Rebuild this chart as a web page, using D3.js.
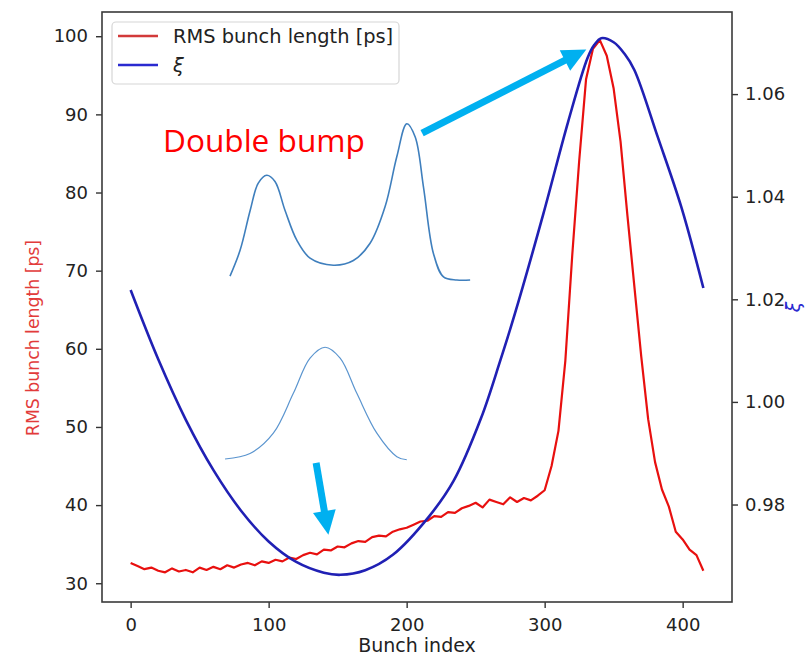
<!DOCTYPE html>
<html>
<head>
<meta charset="utf-8">
<script src="https://cdn.jsdelivr.net/npm/d3@7"></script>
<style>
  body { margin: 0; background: #fff; }
  svg { display: block; }
  .tick text { font-family: "DejaVu Sans", sans-serif; font-size: 18px; fill: #222; }
  .tick line { stroke: #333; stroke-width: 1.4; }
</style>
</head>
<body>
<svg id="chart" width="808" height="657"></svg>
<script>
// bunch index sampled every 5 bunches
const bunchIdx = d3.range(0, 416, 5);
const rmsLength = [
  32.6, 32.2, 31.8, 32.0, 31.6, 31.4, 31.9, 31.5, 31.7, 31.4,
  32.0, 31.7, 32.1, 31.8, 32.3, 32.0, 32.4, 32.6, 32.3, 32.8,
  32.6, 33.0, 32.8, 33.3, 33.1, 33.6, 33.9, 33.7, 34.3, 34.2,
  34.7, 34.6, 35.1, 35.4, 35.3, 35.9, 36.1, 36.0, 36.6, 36.9,
  37.1, 37.5, 37.9, 38.0, 38.6, 38.5, 39.1, 39.0, 39.6, 39.9,
  40.3, 39.7, 40.7, 40.4, 40.1, 41.0, 40.4, 40.9, 40.6, 41.2,
  41.9, 45.0, 49.5, 58.5, 72.0, 84.0, 94.5, 98.4, 99.5, 97.5,
  93.3, 86.5, 77.0, 68.0, 59.0, 51.0, 45.5, 42.0, 39.8, 36.6,
  35.6, 34.3, 33.6, 31.6
];

const xiIdx = [0, 20, 40, 60, 80, 100, 120, 140, 152, 170, 190, 216, 234, 254,
  268, 278, 299, 317, 331, 336, 341, 350, 358, 365, 382, 399, 415];
const xiVals = [1.0218, 1.0083, 0.9965, 0.9867, 0.9788, 0.9728, 0.9688, 0.9667,
  0.9663, 0.9672, 0.9702, 0.9776, 0.9846, 0.9969, 1.0082, 1.0168, 1.0366,
  1.0546, 1.0670, 1.0696, 1.0709, 1.0701, 1.0678, 1.0647, 1.0516, 1.0380, 1.0222];

const xTicks = [0, 100, 200, 300, 400];
const leftTicks = [30, 40, 50, 60, 70, 80, 90, 100];
const rightTicks = [0.98, 1.00, 1.02, 1.04, 1.06];

// sketches of the bunch profiles, in (bunch index, ps) units
const doubleBump = [
  [72.0, 69.3], [79.3, 72.6], [86.6, 77.7], [92.5, 81.2], [98.6, 82.2],
  [104.6, 81.4], [111.9, 77.7], [120.4, 73.9], [130.0, 71.6], [146.9, 70.7],
  [161.4, 71.3], [173.5, 73.5], [184.4, 78.2], [192.9, 84.6], [200.1, 88.8],
  [206.2, 87.1], [212.2, 80.7], [219.4, 72.2], [226.7, 69.2], [236.4, 68.8],
  [246.0, 68.8]
];
const singleBump = [
  [68.4, 45.9], [86.5, 46.6], [103.4, 49.2], [117.9, 54.3], [130.0, 58.8],
  [140.9, 60.2], [151.8, 58.8], [163.9, 54.3], [178.4, 49.2], [192.9, 46.2],
  [200.1, 45.8]
];
// arrows: [from, to] in (bunch index, ps)
const arrows = [
  [[211.2, 87.6], [330.2, 98.3]],
  [[134.4, 45.4], [143.3, 36.2]]
];

const svg = d3.select("#chart");
const margin = { top: 12, right: 76, bottom: 55, left: 102 };
const width = 808, height = 657;

const x = d3.scaleLinear().domain([-20.75, 435.75])
  .range([margin.left, width - margin.right]);
const y1 = d3.scaleLinear().domain([27.6, 103.1])
  .range([height - margin.bottom, margin.top]);
const y2 = d3.scaleLinear().domain([0.961, 1.076])
  .range([height - margin.bottom, margin.top]);

svg.append("rect").attr("width", width).attr("height", height).attr("fill", "#fff");

// axes
svg.append("g")
  .attr("transform", `translate(0,${height - margin.bottom})`)
  .call(d3.axisBottom(x).tickValues(xTicks).tickSize(6).tickPadding(10).tickSizeOuter(0))
  .call((g) => g.select(".domain").remove());

svg.append("g")
  .attr("transform", `translate(${margin.left},0)`)
  .call(d3.axisLeft(y1).tickValues(leftTicks).tickSize(6).tickPadding(8).tickSizeOuter(0))
  .call((g) => g.select(".domain").remove());

svg.append("g")
  .attr("transform", `translate(${width - margin.right},0)`)
  .call(d3.axisRight(y2).tickValues(rightTicks).tickFormat(d3.format(".2f"))
    .tickSize(6).tickPadding(7).tickSizeOuter(0))
  .call((g) => g.select(".domain").remove());

// lines
const plot = svg.append("g");
plot.append("path")
  .datum(bunchIdx.map((d, i) => [d, rmsLength[i]]))
  .attr("fill", "none")
  .attr("stroke", "#e8100f")
  .attr("stroke-width", 2.2)
  .attr("stroke-linejoin", "round")
  .attr("d", d3.line().x((d) => x(d[0])).y((d) => y1(d[1])));

plot.append("path")
  .datum(xiIdx.map((d, i) => [d, xiVals[i]]))
  .attr("fill", "none")
  .attr("stroke", "#2020b4")
  .attr("stroke-width", 2.6)
  .attr("d", d3.line().curve(d3.curveCatmullRom).x((d) => x(d[0])).y((d) => y2(d[1])));

// frame
svg.append("rect")
  .attr("x", margin.left).attr("y", margin.top)
  .attr("width", width - margin.left - margin.right)
  .attr("height", height - margin.top - margin.bottom)
  .attr("fill", "none").attr("stroke", "#3a3a3a").attr("stroke-width", 1.6);

// legend
const lg = svg.append("g");
lg.append("rect")
  .attr("x", 112).attr("y", 22).attr("width", 287).attr("height", 62)
  .attr("rx", 4).attr("fill", "#fff").attr("fill-opacity", 0.8)
  .attr("stroke", "#d6d6d6").attr("stroke-width", 1.2);
const legendItems = [
  { label: "RMS bunch length [ps]", color: "#d23a3a", italic: false },
  { label: "ξ", color: "#2a2ad0", italic: true },
];
legendItems.forEach((d, i) => {
  const yy = 36 + i * 29;
  lg.append("line").attr("x1", 118).attr("x2", 158).attr("y1", yy).attr("y2", yy)
    .attr("stroke", d.color).attr("stroke-width", 2.4);
  lg.append("text").attr("x", 173).attr("y", yy).attr("dy", "0.35em")
    .style("font-family", "DejaVu Sans, sans-serif").style("font-size", "19.4px")
    .style("font-style", d.italic ? "italic" : "normal")
    .attr("fill", "#222").text(d.label);
});

// axis labels
svg.append("text")
  .attr("x", (margin.left + width - margin.right) / 2).attr("y", 652)
  .attr("text-anchor", "middle")
  .style("font-family", "DejaVu Sans, sans-serif").style("font-size", "19px")
  .attr("fill", "#222").text("Bunch index");

svg.append("text")
  .attr("transform", "translate(39,338) rotate(-90)")
  .attr("text-anchor", "middle")
  .style("font-family", "DejaVu Sans, sans-serif").style("font-size", "17.3px")
  .attr("fill", "#e23b3b").text("RMS bunch length [ps]");

svg.append("text")
  .attr("transform", "translate(800,307) rotate(-90)")
  .attr("text-anchor", "middle")
  .style("font-family", "DejaVu Sans, sans-serif").style("font-size", "19px")
  .style("font-style", "italic")
  .attr("fill", "#2a2ad0").text("ξ");

// profile sketches
const sketch = d3.line().curve(d3.curveCatmullRom).x((d) => x(d[0])).y((d) => y1(d[1]));
svg.append("path").datum(doubleBump).attr("d", sketch)
  .attr("fill", "none").attr("stroke", "#3f7fbd").attr("stroke-width", 1.6);
svg.append("path").datum(singleBump).attr("d", sketch)
  .attr("fill", "none").attr("stroke", "#5b95cf").attr("stroke-width", 1.2);

svg.append("text")
  .attr("x", 163).attr("y", 152)
  .style("font-family", "Open Sans, sans-serif").style("font-size", "31.6px")
  .attr("fill", "#ff0000").text("Double bump");

// arrows
arrows.forEach(([from, to]) => {
  const x0 = x(from[0]), yA = y1(from[1]), x1 = x(to[0]), yB = y1(to[1]);
  const dx = x1 - x0, dy = yB - yA, len = Math.hypot(dx, dy);
  const ux = dx / len, uy = dy / len, px = -uy, py = ux;
  const headLen = 24, headW = 11.5;
  const bx = x1 - ux * headLen, by = yB - uy * headLen;
  svg.append("line")
    .attr("x1", x0).attr("y1", yA).attr("x2", bx + ux * 2).attr("y2", by + uy * 2)
    .attr("stroke", "#00b0f0").attr("stroke-width", 7);
  svg.append("path")
    .attr("d", `M${x1},${yB}L${bx + px * headW},${by + py * headW}L${bx - px * headW},${by - py * headW}Z`)
    .attr("fill", "#00b0f0");
});
</script>
</body>
</html>
